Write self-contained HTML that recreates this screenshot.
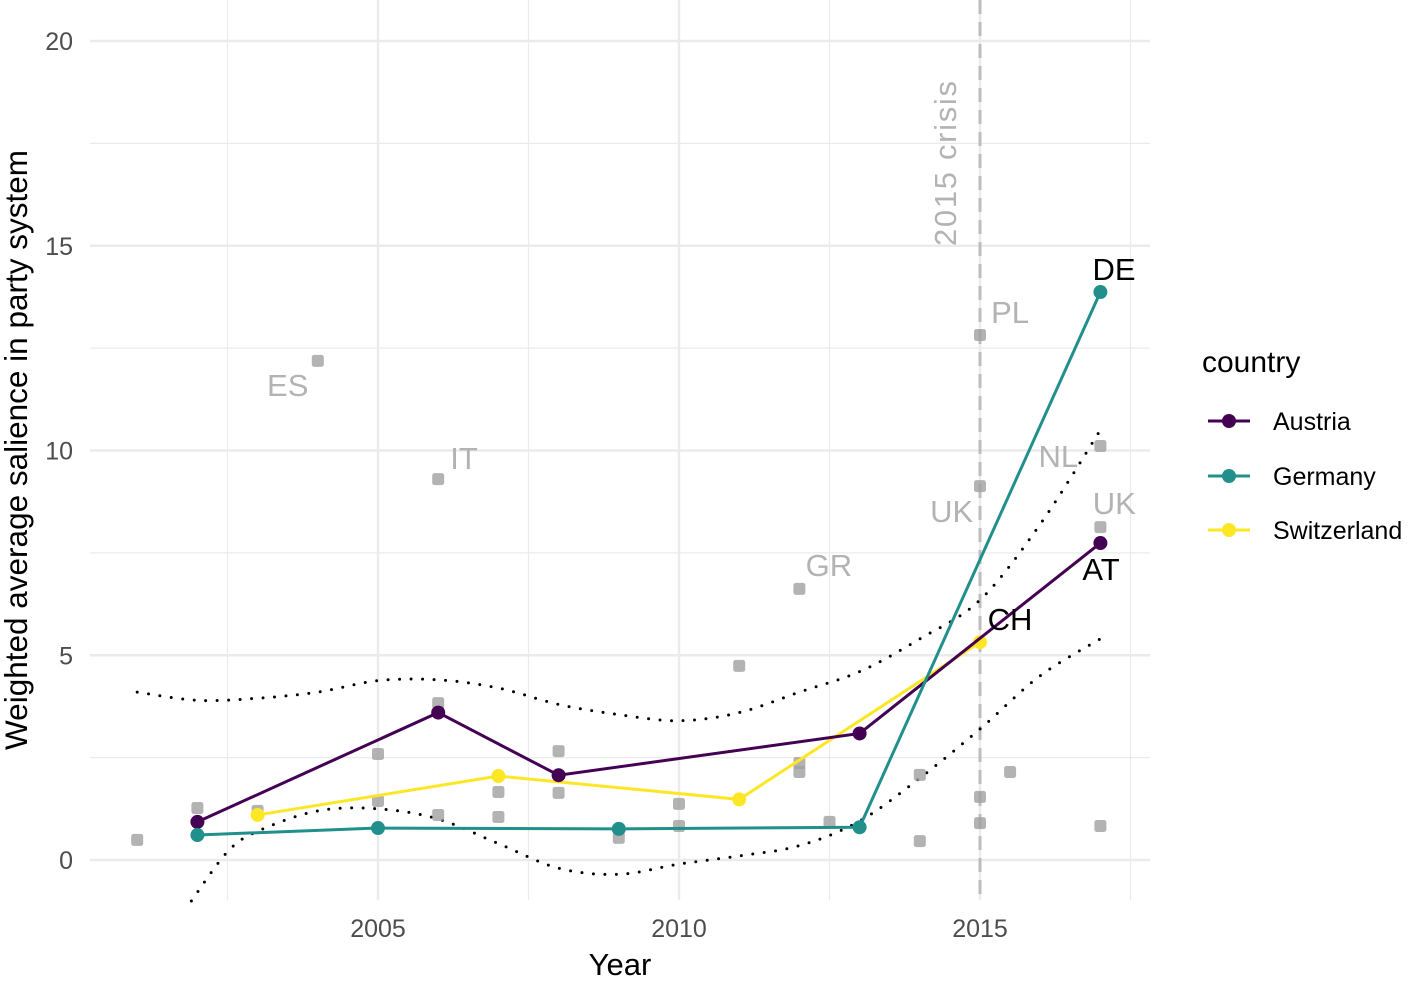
<!DOCTYPE html>
<html><head><meta charset="utf-8"><style>
body{margin:0;background:#fff;}
svg{font-family:"Liberation Sans",Arial,sans-serif;}
</style></head><body>
<svg id="c" width="1418" height="977" viewBox="0 0 1418 977">
<g id="grid"></g><g id="bands"></g><g id="pts"></g><g id="lines"></g><g id="labels"></g>
<text x="620" y="975" font-size="31" text-anchor="middle" fill="#000">Year</text>
<text transform="translate(27,450) rotate(-90)" font-size="31.5" text-anchor="middle" fill="#000">Weighted average salience in party system</text>
<g>
<text x="1202" y="372" font-size="30" fill="#000">country</text>
<g><line x1="1208" y1="421" x2="1250" y2="421" stroke="#440154" stroke-width="3"/><circle cx="1229" cy="421" r="7" fill="#440154"/><text x="1273" y="430" font-size="25">Austria</text></g>
<g><line x1="1208" y1="476" x2="1250" y2="476" stroke="#21908C" stroke-width="3"/><circle cx="1229" cy="476" r="7" fill="#21908C"/><text x="1273" y="485" font-size="25">Germany</text></g>
<g><line x1="1208" y1="530" x2="1250" y2="530" stroke="#FDE725" stroke-width="3"/><circle cx="1229" cy="530" r="7" fill="#FDE725"/><text x="1273" y="539" font-size="25">Switzerland</text></g>
</g>
</svg>
<script>
const yTicks=[0,5,10,15,20];
const xTicks=[2005,2010,2015];
const grayYears=[2001,2002,2003,2004,2005,2005,2006,2006,2006,2007,2007,2008,2008,2009,2010,2010,2011,2012,2012,2012,2012.5,2014,2014,2015,2015,2015,2015,2015.5,2017,2017,2017];
const grayVals=[0.49,1.27,1.2,12.19,2.59,1.44,3.83,1.1,9.3,1.66,1.05,2.66,1.64,0.54,1.37,0.83,4.74,2.37,2.15,6.62,0.93,2.08,0.46,12.82,9.13,1.54,0.9,2.15,10.11,8.13,0.83];
const atYears=[2002,2006,2008,2013,2017], atVals=[0.93,3.6,2.07,3.09,7.74];
const deYears=[2002,2005,2009,2013,2017], deVals=[0.61,0.78,0.76,0.8,13.87];
const chYears=[2003,2007,2011,2015], chVals=[1.1,2.05,1.48,5.32];
const upYears=[2001,2002,2003,2004,2005,2006,2007,2008,2009,2010,2011,2012,2013,2014,2015,2016,2017];
const upVals=[4.1,3.9,3.95,4.1,4.38,4.4,4.2,3.8,3.55,3.4,3.6,4.1,4.6,5.4,6.35,8.2,10.5];
const loYears=[2001.9,2002.5,2003,2004,2005,2006,2007,2008,2009,2010,2011,2012,2013,2014,2015,2016,2017];
const loVals=[-1.0,0.2,0.7,1.2,1.25,1.0,0.4,-0.2,-0.35,-0.1,0.1,0.35,0.95,2.0,3.2,4.5,5.4];
const lblText=["ES","IT","GR","UK","PL","NL","UK"];
const lblYears=[2003.5,2006.43,2012.49,2014.53,2015.5,2016.3,2017.23];
const lblVals=[11.33,9.55,6.94,8.25,13.11,9.6,8.45];
const X=v=>378+(v-2005)*60.2, Y=v=>860-v*40.95;
const NS="http://www.w3.org/2000/svg";
function mk(p,t,a){const e=document.createElementNS(NS,t);for(const k in a)e.setAttribute(k,a[k]);p.appendChild(e);return e;}
const G=document.getElementById('grid');
for(let v=2.5;v<=20;v+=5){const l=mk(G,'line',{x1:90,x2:1150,y1:Y(v),y2:Y(v),stroke:'#ebebeb','stroke-width':1.2});}
[2002.5,2007.5,2012.5,2017.5].forEach(v=>{const l=mk(G,'line',{x1:X(v),x2:X(v),y1:0,y2:900,stroke:'#ebebeb','stroke-width':1.2});});
yTicks.forEach(v=>{const l=mk(G,'line',{x1:90,x2:1150,y1:Y(v),y2:Y(v),stroke:'#ebebeb','stroke-width':2.4});
const t=mk(G,'text',{x:73,y:Y(v)+9,'font-size':25,'text-anchor':'end',fill:'#4d4d4d'});t.textContent=v;});
xTicks.forEach(v=>{const l=mk(G,'line',{x1:X(v),x2:X(v),y1:0,y2:900,stroke:'#ebebeb','stroke-width':2.4});
const t=mk(G,'text',{x:X(v),y:937,'font-size':25,'text-anchor':'middle',fill:'#4d4d4d'});t.textContent=v;});
const vl=mk(G,'line',{x1:X(2015),x2:X(2015),y1:0,y2:900,stroke:'#bdbdbd','stroke-width':3,'stroke-dasharray':'14,8'});

const ct=mk(G,'text',{transform:`translate(${X(2015)-24},246) rotate(-90)`,'font-size':31,'textLength':165,fill:'#b3b3b3'});ct.textContent='2015 crisis';

const B=document.getElementById('bands');
function smooth(xs,ys){let d='M'+X(xs[0])+','+Y(ys[0]);for(let i=0;i<xs.length-1;i++){const p0=[X(xs[Math.max(i-1,0)]),Y(ys[Math.max(i-1,0)])],p1=[X(xs[i]),Y(ys[i])],p2=[X(xs[i+1]),Y(ys[i+1])],p3=[X(xs[Math.min(i+2,xs.length-1)]),Y(ys[Math.min(i+2,xs.length-1)])];
d+=`C${p1[0]+(p2[0]-p0[0])/6},${p1[1]+(p2[1]-p0[1])/6} ${p2[0]-(p3[0]-p1[0])/6},${p2[1]-(p3[1]-p1[1])/6} ${p2[0]},${p2[1]}`;}return d;}
const ub=mk(B,'path',{d:smooth(upYears,upVals),fill:'none',stroke:'#000','stroke-width':3,'stroke-dasharray':'0,11.5','stroke-linecap':'round'});

const lb=mk(B,'path',{d:smooth(loYears,loVals),fill:'none',stroke:'#000','stroke-width':3,'stroke-dasharray':'0,11.5','stroke-linecap':'round'});

const P=document.getElementById('pts');
grayYears.forEach((yr,i)=>{const r=mk(P,'rect',{x:X(yr)-6,y:Y(grayVals[i])-6,width:12,height:12,rx:2.5,fill:'#a0a0a0','fill-opacity':0.8});
});
const L=document.getElementById('lines');
function series(xs,vs,col,name){const l=mk(L,'polyline',{points:xs.map((x,i)=>X(x)+','+Y(vs[i])).join(' '),fill:'none',stroke:col,'stroke-width':3});

xs.forEach((x,i)=>{const c=mk(L,'circle',{cx:X(x),cy:Y(vs[i]),r:7,fill:col});});}
series(chYears,chVals,'#FDE725','switzerland');
series(atYears,atVals,'#440154','austria');
series(deYears,deVals,'#21908C','germany');
const T=document.getElementById('labels');
lblText.forEach((s,i)=>{const t=mk(T,'text',{x:X(lblYears[i]),y:Y(lblVals[i]),'font-size':31,'text-anchor':'middle',fill:'#b3b3b3'});t.textContent=s;
});
const bl=[['DE',1114,280],['AT',1101,580],['CH',1010,630]];
bl.forEach(b=>{const t=mk(T,'text',{x:b[1],y:b[2],'font-size':31,'text-anchor':'middle',fill:'#000'});t.textContent=b[0];
});
</script>
</body></html>
